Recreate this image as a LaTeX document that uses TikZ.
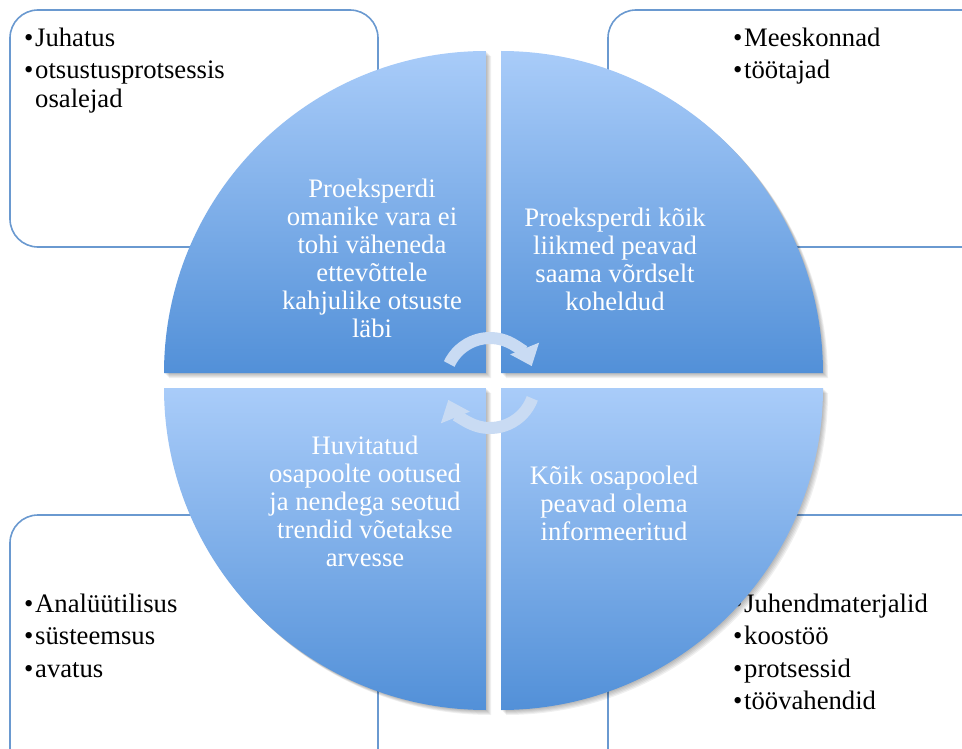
\documentclass[tikz,border=0pt]{standalone}
\usepackage{fontspec}
\setmainfont{Liberation Serif}
\usetikzlibrary{arrows.meta}
\definecolor{qtop}{HTML}{A9CCF9}
\definecolor{qbot}{HTML}{5290D8}
\definecolor{boxline}{HTML}{6A99D0}
\definecolor{arrowc}{HTML}{C9DBF3}
\tikzset{
  boxshape/.style={draw=boxline, line width=1.6pt, rounded corners=28pt, fill=white},
  qtext/.style={text=white, align=center, inner sep=0pt, font=\fontsize{26.67}{28}\selectfont},
  btext/.style={text=black, anchor=base west, inner sep=0pt, font=\fontsize{26.67}{32}\selectfont},
  cycarrow/.style={draw=arrowc, line width=12pt, -{Triangle[width=30pt,length=19pt]}},
}
\newcommand{\bul}{\makebox[11pt][l]{\textbullet}}
\begin{document}
\begin{tikzpicture}[x=1pt,y=-1pt]
\useasboundingbox (0,0) rectangle (962,749);
\clip (0,0) rectangle (962,749);
% boxes
\draw[boxshape] (10,10) rectangle (378,247);
\draw[boxshape] (608,10) rectangle (1000,247);
\draw[boxshape] (10,515) rectangle (378,800);
\draw[boxshape] (608,515) rectangle (1000,800);
% box texts
\node[btext] (a1) at (24,47) {\bul Juhatus};
\node[btext] (a2) at (24,79) {\bul otsustusprotsessis};
\node[btext] (a3) at (35,108) {osalejad};
\node[btext] (b1) at (733,47) {\bul Meeskonnad};
\node[btext] (b2) at (733,79) {\bul töötajad};
\node[btext] (c1) at (24,612) {\bul Analüütilisus};
\node[btext] (c2) at (24,644) {\bul süsteemsus};
\node[btext] (c3) at (24,677) {\bul avatus};
\node[btext] (d1) at (733,612) {\bul Juhendmaterjalid};
\node[btext] (d2) at (733,644) {\bul koostöö};
\node[btext] (d3) at (733,677) {\bul protsessid};
\node[btext] (d4) at (733,709) {\bul töövahendid};
% pie quadrants with soft shadow
\foreach \cx/\cy/\sa in {486/373/180, 501/373/270, 501/388/0, 486/388/90}{
  \foreach \o in {1,2,3,4,5}{
    \fill[black, opacity=0.06] ([shift={(\o,\o)}]\cx,\cy) -- ++(\sa:322) arc[start angle=\sa, end angle=\sa+90, radius=322] -- cycle;
  }
  \shade[top color=qtop, bottom color=qbot] (\cx,\cy) -- ++(\sa:322) arc[start angle=\sa, end angle=\sa+90, radius=322] -- cycle;
}
% quadrant texts
\node[qtext, anchor=north] (q1) at (372,179) {Proeksperdi\\omanike vara ei\\tohi väheneda\\ettevõttele\\kahjulike otsuste\\läbi};
\node[qtext, anchor=north] (q2) at (615,208) {Proeksperdi kõik\\liikmed peavad\\saama võrdselt\\koheldud};
\node[qtext, anchor=north] (q3) at (365,436) {Huvitatud\\osapoolte ootused\\ja nendega seotud\\trendid võetakse\\arvesse};
\node[qtext, anchor=north] (q4) at (614,466) {Kõik osapooled\\peavad olema\\informeeritud};
% cycle arrows
\draw[cycarrow] (490,383) ++(-155:45) arc[start angle=-155, end angle=-22, radius=45];
\draw[cycarrow] (490,383) ++(20:45) arc[start angle=20, end angle=158, radius=45];
\end{tikzpicture}
\end{document}
